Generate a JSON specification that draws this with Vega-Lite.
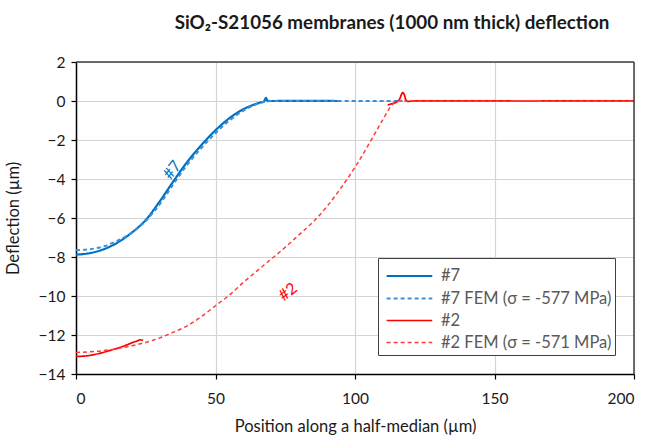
{
  "$schema": "https://vega.github.io/schema/vega-lite/v6.json",
  "width": 558,
  "height": 312,
  "padding": {"left": 5, "top": 14, "right": 5, "bottom": 5},
  "title": {
    "text": "SiO₂-S21056 membranes (1000 nm thick) deflection",
    "font": "Lato", "fontSize": 18.8, "fontWeight": "bold", "color": "#1a1a1a",
    "anchor": "middle", "dx": 37, "offset": 22
  },
  "resolve": {"axis": {"x": "independent", "y": "independent"}},
  "data": {"values": [
      {"series": "#7", "seg": "a", "x": 0, "y": -7.88},
      {"series": "#7", "seg": "a", "x": 5, "y": -7.8},
      {"series": "#7", "seg": "a", "x": 10, "y": -7.6},
      {"series": "#7", "seg": "a", "x": 15, "y": -7.25},
      {"series": "#7", "seg": "a", "x": 20, "y": -6.75},
      {"series": "#7", "seg": "a", "x": 25, "y": -6.1},
      {"series": "#7", "seg": "a", "x": 30, "y": -5.15},
      {"series": "#7", "seg": "a", "x": 35, "y": -4.1},
      {"series": "#7", "seg": "a", "x": 40, "y": -3.1},
      {"series": "#7", "seg": "a", "x": 45, "y": -2.25},
      {"series": "#7", "seg": "a", "x": 50, "y": -1.5},
      {"series": "#7", "seg": "a", "x": 55, "y": -0.88},
      {"series": "#7", "seg": "a", "x": 60, "y": -0.42},
      {"series": "#7", "seg": "a", "x": 64.5, "y": -0.15},
      {"series": "#7", "seg": "a", "x": 66, "y": -0.08},
      {"series": "#7", "seg": "a", "x": 67.3, "y": -0.04},
      {"series": "#7", "seg": "a", "x": 67.8, "y": 0.1},
      {"series": "#7", "seg": "a", "x": 68.1, "y": 0.16},
      {"series": "#7", "seg": "a", "x": 68.5, "y": 0.02},
      {"series": "#7", "seg": "a", "x": 69.5, "y": 0},
      {"series": "#7", "seg": "a", "x": 80, "y": 0.01},
      {"series": "#7", "seg": "a", "x": 93.8, "y": 0},

      {"series": "#7 FEM (σ = -577 MPa)", "seg": "a", "x": 0, "y": -7.65},
      {"series": "#7 FEM (σ = -577 MPa)", "seg": "a", "x": 5, "y": -7.6},
      {"series": "#7 FEM (σ = -577 MPa)", "seg": "a", "x": 10, "y": -7.45},
      {"series": "#7 FEM (σ = -577 MPa)", "seg": "a", "x": 15, "y": -7.15},
      {"series": "#7 FEM (σ = -577 MPa)", "seg": "a", "x": 20, "y": -6.75},
      {"series": "#7 FEM (σ = -577 MPa)", "seg": "a", "x": 25, "y": -6.15},
      {"series": "#7 FEM (σ = -577 MPa)", "seg": "a", "x": 30, "y": -5.3},
      {"series": "#7 FEM (σ = -577 MPa)", "seg": "a", "x": 35, "y": -4.25},
      {"series": "#7 FEM (σ = -577 MPa)", "seg": "a", "x": 40, "y": -3.25},
      {"series": "#7 FEM (σ = -577 MPa)", "seg": "a", "x": 45, "y": -2.4},
      {"series": "#7 FEM (σ = -577 MPa)", "seg": "a", "x": 50, "y": -1.65},
      {"series": "#7 FEM (σ = -577 MPa)", "seg": "a", "x": 55, "y": -1.0},
      {"series": "#7 FEM (σ = -577 MPa)", "seg": "a", "x": 60, "y": -0.5},
      {"series": "#7 FEM (σ = -577 MPa)", "seg": "a", "x": 65, "y": -0.15},
      {"series": "#7 FEM (σ = -577 MPa)", "seg": "a", "x": 68, "y": -0.02},
      {"series": "#7 FEM (σ = -577 MPa)", "seg": "a", "x": 70, "y": 0},
      {"series": "#7 FEM (σ = -577 MPa)", "seg": "a", "x": 117, "y": 0},

      {"series": "#2", "seg": "a", "x": 0, "y": -13.1},
      {"series": "#2", "seg": "a", "x": 3, "y": -13.08},
      {"series": "#2", "seg": "a", "x": 6, "y": -13.02},
      {"series": "#2", "seg": "a", "x": 9, "y": -12.92},
      {"series": "#2", "seg": "a", "x": 12, "y": -12.8},
      {"series": "#2", "seg": "a", "x": 15, "y": -12.67},
      {"series": "#2", "seg": "a", "x": 18, "y": -12.52},
      {"series": "#2", "seg": "a", "x": 20, "y": -12.4},
      {"series": "#2", "seg": "a", "x": 22, "y": -12.3},
      {"series": "#2", "seg": "a", "x": 23, "y": -12.25},
      {"series": "#2", "seg": "a", "x": 24, "y": -12.27},
      {"series": "#2", "seg": "b", "x": 111.7, "y": -0.2},
      {"series": "#2", "seg": "b", "x": 113, "y": -0.15},
      {"series": "#2", "seg": "b", "x": 114.5, "y": -0.08},
      {"series": "#2", "seg": "b", "x": 116, "y": 0.1},
      {"series": "#2", "seg": "b", "x": 116.7, "y": 0.35},
      {"series": "#2", "seg": "b", "x": 117.1, "y": 0.43},
      {"series": "#2", "seg": "b", "x": 117.6, "y": 0.35},
      {"series": "#2", "seg": "b", "x": 118.3, "y": 0.05},
      {"series": "#2", "seg": "b", "x": 119, "y": -0.02},
      {"series": "#2", "seg": "b", "x": 121, "y": 0},
      {"series": "#2", "seg": "b", "x": 130, "y": 0.01},
      {"series": "#2", "seg": "b", "x": 160, "y": 0},
      {"series": "#2", "seg": "b", "x": 200, "y": 0.01},

      {"series": "#2 FEM (σ = -571 MPa)", "seg": "a", "x": 0, "y": -12.9},
      {"series": "#2 FEM (σ = -571 MPa)", "seg": "a", "x": 10, "y": -12.8},
      {"series": "#2 FEM (σ = -571 MPa)", "seg": "a", "x": 20, "y": -12.55},
      {"series": "#2 FEM (σ = -571 MPa)", "seg": "a", "x": 25, "y": -12.38},
      {"series": "#2 FEM (σ = -571 MPa)", "seg": "a", "x": 30, "y": -12.15},
      {"series": "#2 FEM (σ = -571 MPa)", "seg": "a", "x": 35, "y": -11.85},
      {"series": "#2 FEM (σ = -571 MPa)", "seg": "a", "x": 40, "y": -11.52},
      {"series": "#2 FEM (σ = -571 MPa)", "seg": "a", "x": 45, "y": -11.05},
      {"series": "#2 FEM (σ = -571 MPa)", "seg": "a", "x": 50, "y": -10.5},
      {"series": "#2 FEM (σ = -571 MPa)", "seg": "a", "x": 55, "y": -9.95},
      {"series": "#2 FEM (σ = -571 MPa)", "seg": "a", "x": 60, "y": -9.3},
      {"series": "#2 FEM (σ = -571 MPa)", "seg": "a", "x": 65, "y": -8.7},
      {"series": "#2 FEM (σ = -571 MPa)", "seg": "a", "x": 70, "y": -8.1},
      {"series": "#2 FEM (σ = -571 MPa)", "seg": "a", "x": 75, "y": -7.5},
      {"series": "#2 FEM (σ = -571 MPa)", "seg": "a", "x": 80, "y": -6.85},
      {"series": "#2 FEM (σ = -571 MPa)", "seg": "a", "x": 85, "y": -6.2},
      {"series": "#2 FEM (σ = -571 MPa)", "seg": "a", "x": 90, "y": -5.4},
      {"series": "#2 FEM (σ = -571 MPa)", "seg": "a", "x": 95, "y": -4.45},
      {"series": "#2 FEM (σ = -571 MPa)", "seg": "a", "x": 100, "y": -3.4},
      {"series": "#2 FEM (σ = -571 MPa)", "seg": "a", "x": 105, "y": -2.2},
      {"series": "#2 FEM (σ = -571 MPa)", "seg": "a", "x": 110, "y": -0.95},
      {"series": "#2 FEM (σ = -571 MPa)", "seg": "a", "x": 113, "y": -0.25},
      {"series": "#2 FEM (σ = -571 MPa)", "seg": "a", "x": 115, "y": 0},
      {"series": "#2 FEM (σ = -571 MPa)", "seg": "a", "x": 200, "y": 0}
  ]},
  "layer": [
    {
      "mark": {"type": "line", "interpolate": "monotone"},
      "encoding": {
        "x": {
          "field": "x", "type": "quantitative",
          "scale": {"domain": [0, 200], "nice": false, "zero": false},
          "axis": {
            "values": [0, 50, 100, 150, 200], "title": "Position along a half-median (µm)",
            "titlePadding": 12, "labelPadding": 12,
            "grid": true, "gridColor": "#d4d4d4", "gridWidth": 1.2,
            "domainColor": "#000000", "domainWidth": 1.5,
            "tickColor": "#000000", "tickSize": 5, "tickWidth": 1.2,
            "labelFont": "Lato", "labelFontSize": 15.5, "labelColor": "#1a1a1a",
            "titleFont": "Lato", "titleFontSize": 16.5, "titleFontWeight": "normal", "titleColor": "#1a1a1a"
          }
        },
        "y": {
          "field": "y", "type": "quantitative",
          "scale": {"domain": [-14, 2], "nice": false, "zero": false},
          "axis": {
            "values": [-14, -12, -10, -8, -6, -4, -2, 0, 2], "title": "Deflection (µm)",
            "titlePadding": 17, "labelPadding": 6, "labelOverlap": false,
            "grid": true, "gridColor": "#d4d4d4", "gridWidth": 1.2,
            "domainColor": "#000000", "domainWidth": 1.5,
            "tickColor": "#000000", "tickSize": 5, "tickWidth": 1.2,
            "labelFont": "Lato", "labelFontSize": 15.5, "labelColor": "#1a1a1a",
            "titleFont": "Lato", "titleFontSize": 16.5, "titleFontWeight": "normal", "titleColor": "#1a1a1a"
          }
        },
        "detail": {"field": "seg"},
        "color": {
          "field": "series", "type": "nominal",
          "scale": {
            "domain": ["#7", "#7 FEM (σ = -577 MPa)", "#2", "#2 FEM (σ = -571 MPa)"],
            "range": ["#0070C0", "#3A8FD9", "#FF0000", "#FF3B3B"]
          },
          "legend": {
            "title": null,
            "orient": "none",
            "legendX": 302,
            "legendY": 196,
            "fillColor": "white",
            "strokeColor": "#404040",
            "padding": 4,
            "symbolType": "M-0.75,0H2.9",
            "symbolSize": 625,
            "symbolStrokeWidth": 2,
            "labelFont": "Lato",
            "labelFontSize": 16.5,
            "labelColor": "#595959",
            "labelOffset": 31,
            "rowPadding": 0,
            "labelLimit": 300
          }
        },
        "strokeDash": {
          "field": "series", "type": "nominal",
          "scale": {
            "domain": ["#7", "#7 FEM (σ = -577 MPa)", "#2", "#2 FEM (σ = -571 MPa)"],
            "range": [[1, 0], [4, 3], [1, 0], [4, 3]]
          },
          "legend": {
            "title": null,
            "orient": "none",
            "legendX": 302,
            "legendY": 196,
            "fillColor": "white",
            "strokeColor": "#404040",
            "padding": 4,
            "symbolType": "M-0.75,0H2.9",
            "symbolSize": 625,
            "symbolStrokeWidth": 2,
            "labelFont": "Lato",
            "labelFontSize": 16.5,
            "labelColor": "#595959",
            "labelOffset": 31,
            "rowPadding": 0,
            "labelLimit": 300
          }
        },
        "strokeWidth": {
          "field": "series", "type": "nominal",
          "scale": {
            "domain": ["#7", "#7 FEM (σ = -577 MPa)", "#2", "#2 FEM (σ = -571 MPa)"],
            "range": [2.2, 1.5, 2.2, 1.5]
          },
          "legend": null
        }
      }
    },
    {
      "data": {"values": [{"b": 2}]},
      "mark": {"type": "rule", "color": "#404040", "strokeWidth": 1.5},
      "encoding": {"y": {"field": "b", "type": "quantitative",
        "axis": {"labels": false, "ticks": false, "domain": false, "grid": false, "title": null}}}
    },
    {
      "data": {"values": [{"b": 200}]},
      "mark": {"type": "rule", "color": "#404040", "strokeWidth": 1.5},
      "encoding": {"x": {"field": "b", "type": "quantitative",
        "axis": {"labels": false, "ticks": false, "domain": false, "grid": false, "title": null}}}
    },
    {
      "data": {"values": [{"x": 34.5, "y": -3.55, "t": "#7"}]},
      "mark": {"type": "text", "angle": -52, "color": "#0070C0", "font": "Lato", "fontSize": 16},
      "encoding": {
        "x": {"field": "x", "type": "quantitative",
          "axis": {"labels": false, "ticks": false, "domain": false, "grid": false, "title": null}},
        "y": {"field": "y", "type": "quantitative",
          "axis": {"labels": false, "ticks": false, "domain": false, "grid": false, "title": null}},
        "text": {"field": "t"}
      }
    },
    {
      "data": {"values": [{"x": 76, "y": -9.8, "t": "#2"}]},
      "mark": {"type": "text", "angle": -38, "color": "#FF0000", "font": "Lato", "fontSize": 16},
      "encoding": {
        "x": {"field": "x", "type": "quantitative",
          "axis": {"labels": false, "ticks": false, "domain": false, "grid": false, "title": null}},
        "y": {"field": "y", "type": "quantitative",
          "axis": {"labels": false, "ticks": false, "domain": false, "grid": false, "title": null}},
        "text": {"field": "t"}
      }
    }
  ]
}
